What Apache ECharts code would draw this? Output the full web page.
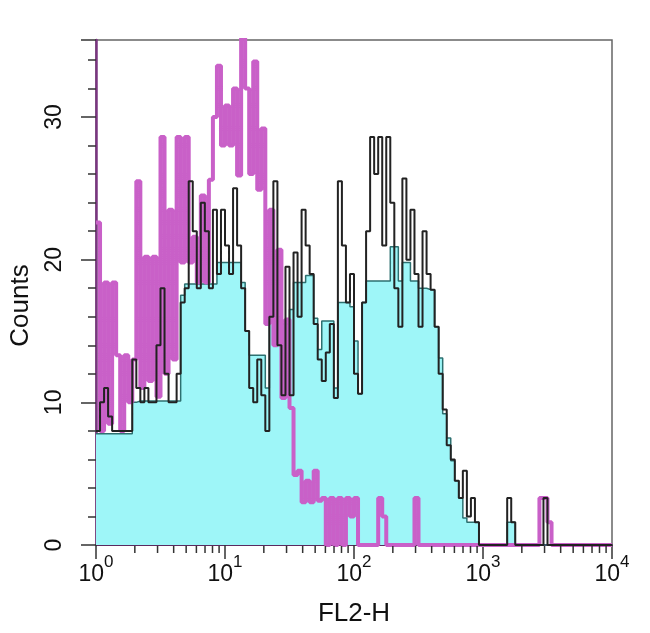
<!DOCTYPE html>
<html>
<head>
<meta charset="utf-8">
<script src="https://cdn.jsdelivr.net/npm/echarts@6/dist/echarts.min.js"></script>
<style>
html,body{margin:0;padding:0;background:#fff;}
#chart{width:650px;height:633px;}
</style>
</head>
<body>
<div id="chart"></div>
<script>
// Histogram bins: 32 bins per decade, 10^0 .. 10^4 (128 bins)
const binsPerDecade = 32;
const decades = 4;

// Stained sample, smoothed fill (cyan)
const cyanCounts = [
 7.8,7.8,7.8,7.8,7.8,7.8,7.8,7.8,7.8,10,
 10.1,10.1,10.1,10.1,10.1,10.1,10.1,10.1,10.1,10.1,
 10.1,17.5,18.3,18.3,18.3,18.3,18.3,18.3,18.3,18.3,
 19.8,19.8,19.8,19.8,19.8,19.8,18.4,15,13.3,13.3,
 13.3,13.3,11,16,16,16,15.5,15.5,16.5,18.4,
 18.4,18.4,18.9,18.9,15.9,13.7,15.7,15.7,15.7,11,
 17,17,17,16.7,14.3,10.6,17,18.5,18.5,18.5,
 18.5,18.5,18.5,20.9,20.9,18.5,19.8,19.8,18.5,18.5,
 18,18,17.9,17.9,15.3,13.1,9.2,7.5,5.9,4.5,
 3.3,1.9,1.6,1.6,1.6,0,0,0,0,0,
 0,0,1.6,1.6,0,0,0,0,0,0,
 0,0,0,0,0,0,0,0,0,0,
 0,0,0,0,0,0,0,0
];

// Stained sample, raw channel counts (black)
const blackCounts = [
 8,10,11,9,8,8,8,8,8,13,
 11,10,11,10,10,14,18,12,10,10,
 12,17,18,25.5,22,18,24,22,18,23.5,
 19,23.5,21,19,25,21,18,15,11,10,
 13,10.5,8,16,25.5,14,10.5,19.5,10.5,20.5,
 16,23.5,21,19,15.5,13,11.5,13.5,15.5,10.3,
 25.5,21,17,19,12,10.6,17,22,28.6,26,
 28.6,21,28.6,24,18,15.3,25.7,20,23.5,19,
 15.3,22,19,17.9,15.3,12,9.5,7,6,4.5,
 3.3,5.2,2,3.3,1.6,0,0,0,0,0,
 0,0,3.3,1.6,0,0,0,0,0,0,
 0,3.3,0,0,0,0,0,0,0,0,
 0,0,0,0,0,0,0,0
];

// Isotype control (magenta)
const magentaCounts = [
 22.6,8,18.4,8.5,18.4,13.3,8,13.3,10,13,
 25.5,11,20.2,11.5,20.2,10.4,28.6,12,23.5,13,
 28.6,19.8,28.6,19.8,21.6,18.4,24.5,18.4,25.6,30,
 33.6,28,30.8,28,32,25.9,35.7,32,26,33.9,
 24.9,29.2,15.5,23.5,14,20.7,10.3,15.8,9.6,4.9,
 5.2,3,4.5,3,5.2,3.1,3.3,0,3.3,0,
 3.3,0,3.3,2,3.3,0,0,0,0,0,
 3.3,2,0,0,0,0,0,0,0,3.3,
 0,0,0,0,0,0,0,0,0,0,
 0,0,0,0,0,0,0,0,0,0,
 0,0,0,0,0,0,0,0,0,0,
 3.3,3.3,1.6,0,0,0,0,0,0,0,
 0,0,0,0,0,0,0,0
];

const yTicks = [0, 10, 20, 30];
const minorMultipliers = [2, 3, 4, 5, 6, 7, 8, 9];

function toSteps(counts) {
  const pts = counts.map((c, i) => [Math.pow(10, i / binsPerDecade), c]);
  pts.push([Math.pow(10, decades), counts[counts.length - 1]]);
  return pts;
}

const minorTickData = [];
for (let d = 0; d < decades; d++) {
  minorMultipliers.forEach(m => minorTickData.push([m * Math.pow(10, d), 0]));
}

const chart = echarts.init(document.getElementById('chart'), null, {renderer: 'canvas'});
const font = 'Liberation Sans, Arial, sans-serif';
const txt = '#111';

chart.setOption({
  animation: false,
  backgroundColor: '#fff',
  grid: {left: 93, right: 38, top: 40, bottom: 88, show: true,
         borderColor: '#666', borderWidth: 1.5, backgroundColor: 'transparent'},
  xAxis: {
    type: 'log', logBase: 10, min: 1, max: 10000,
    name: 'FL2-H', nameLocation: 'middle', nameGap: 56,
    nameTextStyle: {fontFamily: font, fontSize: 26, color: txt},
    axisLine: {show: true, lineStyle: {color: '#5a2a5e', width: 2}},
    axisTick: {show: true, length: 14, lineStyle: {color: '#333', width: 1.5}},
    minorTick: {show: false},
    splitLine: {show: false},
    axisLabel: {
      margin: 9,
      formatter: v => '{b|10}{s|' + Math.round(Math.log10(v)) + '}',
      rich: {
        b: {fontFamily: font, fontSize: 23, color: txt},
        s: {fontFamily: font, fontSize: 17, color: txt, padding: [0, 0, 25, 0]}
      }
    }
  },
  yAxis: {
    type: 'value', min: 0, max: 35.4, interval: 10,
    name: 'Counts', nameLocation: 'middle', nameGap: 62, nameRotate: 90,
    nameTextStyle: {fontFamily: font, fontSize: 26, color: txt, padding: [0, 26, 0, 0]},
    axisLine: {show: true, lineStyle: {color: '#7a3580', width: 2.5}},
    axisTick: {show: true, length: 15, lineStyle: {color: '#333', width: 1.5}},
    minorTick: {show: true, splitNumber: 5, length: 8, lineStyle: {color: '#333', width: 1.5}},
    splitLine: {show: false},
    axisLabel: {
      rotate: 90, margin: 30, showMaxLabel: false,
      fontFamily: font, fontSize: 23, color: txt,
      formatter: v => (yTicks.indexOf(v) >= 0 ? String(v) : '')
    }
  },
  series: [
    {
      type: 'line', name: 'stained fill', step: 'end', symbol: 'none',
      data: toSteps(cyanCounts), z: 2,
      lineStyle: {color: '#2d7070', width: 1.5},
      areaStyle: {color: '#9ef6f8', opacity: 1}
    },
    {
      type: 'line', name: 'isotype', step: 'end', symbol: 'none',
      data: toSteps(magentaCounts), z: 3,
      lineStyle: {color: '#c960c8', width: 4}
    },
    {
      type: 'line', name: 'stained', step: 'end', symbol: 'none',
      data: toSteps(blackCounts), z: 4,
      lineStyle: {color: '#222', width: 2}
    },
    {
      type: 'custom', name: 'minor ticks', clip: false, silent: true, z: 5,
      data: minorTickData,
      renderItem: function (params, api) {
        const p = api.coord([api.value(0), api.value(1)]);
        return {type: 'line',
                shape: {x1: p[0], y1: p[1] + 1, x2: p[0], y2: p[1] + 8},
                style: {stroke: '#333', lineWidth: 1.5}};
      }
    }
  ]
});
</script>
</body>
</html>
